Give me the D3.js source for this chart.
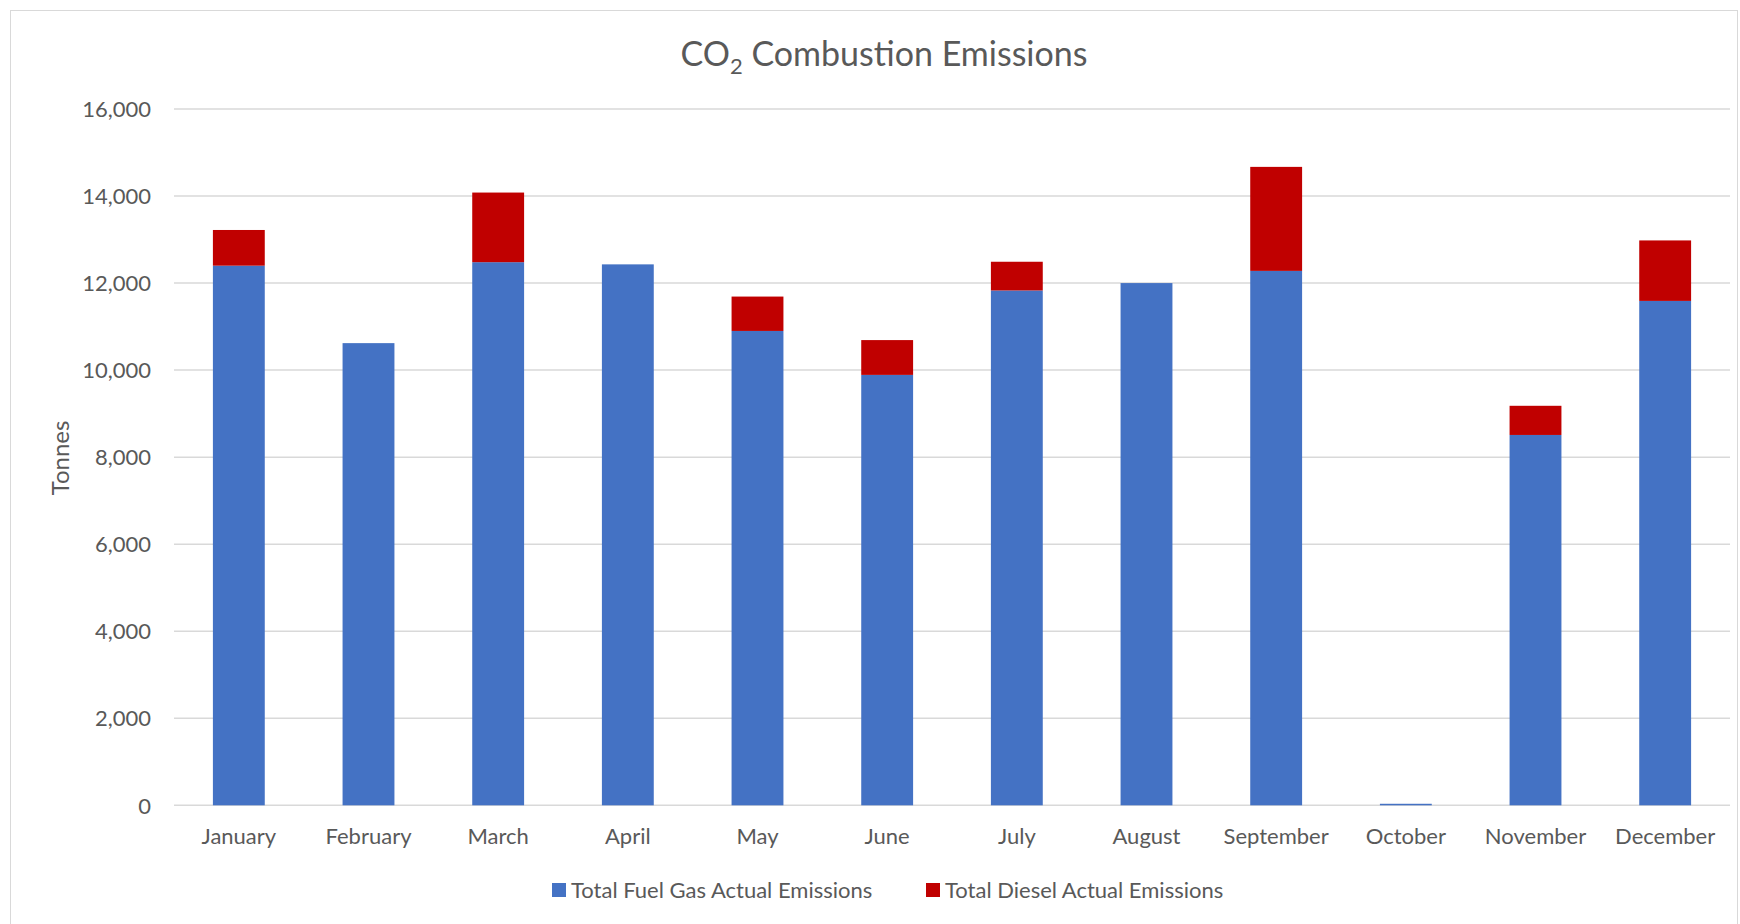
<!DOCTYPE html>
<html>
<head>
<meta charset="utf-8">
<script src="https://cdn.jsdelivr.net/npm/d3@7"></script>
<style>
  body { margin: 0; background: #fff; }
  svg { display: block; font-family: Lato, "Open Sans", sans-serif; }
</style>
</head>
<body>
<div id="chart"></div>
<script>
const months = ["January", "February", "March", "April", "May", "June",
  "July", "August", "September", "October", "November", "December"];
const fuelGas = [12400, 10620, 12480, 12430, 10900, 9890, 11830, 12000, 12280, 35, 8510, 11590];
const diesel = [820, 0, 1600, 0, 790, 800, 660, 0, 2390, 0, 670, 1390];
const seriesNames = ["Total Fuel Gas Actual Emissions", "Total Diesel Actual Emissions"];
const seriesColors = ["#4472C4", "#C00000"];
const yTicks = [0, 2000, 4000, 6000, 8000, 10000, 12000, 14000, 16000];

const width = 1740, height = 924;
const textColor = "#595959";
const fontStack = "Lato, 'Open Sans', sans-serif";

const svg = d3.select("#chart").append("svg")
  .attr("width", width)
  .attr("height", height);

// chart border
svg.append("rect")
  .attr("x", 10.5).attr("y", 10.5)
  .attr("width", 1727).attr("height", 930)
  .attr("fill", "none")
  .attr("stroke", "#d9d9d9");

let x = d3.scaleBand()
  .domain(months)
  .range([174, 1730])
  .paddingInner(0.6)
  .paddingOuter(0.3);

let y = d3.scaleLinear()
  .domain([0, 16000])
  .range([805.3, 109]);

// gridlines
svg.append("g")
  .selectAll("line")
  .data(yTicks)
  .join("line")
  .attr("x1", 174).attr("x2", 1730)
  .attr("y1", d => y(d)).attr("y2", d => y(d))
  .attr("stroke", "#d9d9d9")
  .attr("stroke-width", 1.5);

// y axis labels
const yAxis = svg.append("g")
  .attr("transform", "translate(151,0)")
  .call(d3.axisLeft(y).tickValues(yTicks).tickSize(0).tickPadding(0).tickFormat(d3.format(",")))
  .attr("font-family", fontStack)
  .attr("font-size", 22);
yAxis.select(".domain").remove();
yAxis.selectAll("text")
  .attr("fill", textColor)
  .attr("dy", "0.35em");

// stacked data
const rows = months.map((m, i) => ({ month: m, fuel: fuelGas[i], diesel: diesel[i] }));
const stack = d3.stack().keys(["fuel", "diesel"])(rows);

svg.append("g")
  .selectAll("g")
  .data(stack)
  .join("g")
  .attr("fill", (d, i) => seriesColors[i])
  .selectAll("rect")
  .data(d => d)
  .join("rect")
  .attr("x", d => x(d.data.month))
  .attr("width", x.bandwidth())
  .attr("y", d => y(d[1]))
  .attr("height", d => y(d[0]) - y(d[1]));

// x axis labels
const xAxis = svg.append("g")
  .attr("transform", "translate(0,805)")
  .call(d3.axisBottom(x).tickSize(0).tickPadding(0))
  .attr("font-family", fontStack)
  .attr("font-size", 22);
xAxis.select(".domain").remove();
xAxis.selectAll("text")
  .attr("fill", textColor)
  .attr("y", 39)
  .attr("dy", 0);

// title
const title = svg.append("text")
  .attr("x", 884)
  .attr("y", 66)
  .attr("text-anchor", "middle")
  .attr("fill", textColor)
  .style("font-size", "34px");
title.append("tspan").text("CO");
title.append("tspan").text("2").attr("dy", 8).style("font-size", "22px");
title.append("tspan").text(" Combustion Emissions").attr("dy", -8);

// y axis title
svg.append("text")
  .attr("transform", "translate(69,458) rotate(-90)")
  .attr("text-anchor", "middle")
  .attr("fill", textColor)
  .style("font-size", "24px")
  .text("Tonnes");

// legend
const legendX = [552, 926];
const legend = svg.append("g")
  .selectAll("g")
  .data(seriesNames)
  .join("g")
  .attr("transform", (d, i) => `translate(${legendX[i]},890)`);
legend.append("rect")
  .attr("x", 0).attr("y", -7)
  .attr("width", 14).attr("height", 14)
  .attr("fill", (d, i) => seriesColors[i]);
legend.append("text")
  .attr("x", 19)
  .attr("y", 8)
  .attr("fill", textColor)
  .style("font-size", "22px")
  .text(d => d);
</script>
</body>
</html>
